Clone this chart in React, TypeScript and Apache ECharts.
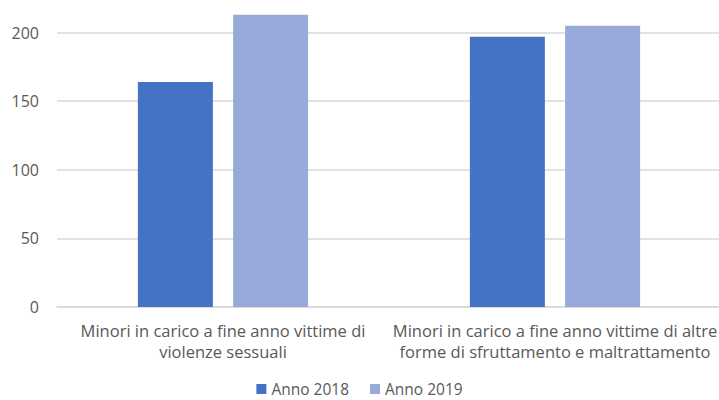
import React, { useEffect, useRef } from "react";
import * as echarts from "echarts";

const categories = [
  "Minori in carico a fine anno vittime di\nviolenze sessuali",
  "Minori in carico a fine anno vittime di altre\nforme di sfruttamento e maltrattamento",
];
const seriesNames = ["Anno 2018", "Anno 2019"];
const values2018 = [164, 197];
const values2019 = [213, 205];

const FONT = "'Open Sans', sans-serif";
const TEXT = "#595959";
const OFFSET = 36;

export default function App() {
  const ref = useRef<HTMLDivElement>(null);
  useEffect(() => {
    if (!ref.current) return;
    const chart = echarts.init(ref.current, null, { renderer: "svg" });
    chart.setOption({
      animation: false,
      textStyle: { fontFamily: FONT },
      grid: { left: 57, right: -2, top: 0, bottom: 93, containLabel: false, outerBoundsMode: "none" },
      legend: {
        data: seriesNames,
        top: 381 + OFFSET,
        left: "center",
        padding: 0,
        icon: "rect",
        itemWidth: 10,
        itemHeight: 10,
        itemGap: 21,
        textStyle: { color: TEXT, fontSize: 15.5, lineHeight: 14, fontFamily: FONT },
      },
      xAxis: {
        type: "category",
        data: categories,
        axisLine: { lineStyle: { color: "#d9d9d9", width: 1.5 } },
        axisTick: { show: false },
        axisLabel: {
          color: TEXT,
          fontSize: 16.5,
          lineHeight: 21,
          margin: 13,
          interval: 0,
          fontFamily: FONT,
        },
      },
      yAxis: {
        type: "value",
        min: 0,
        max: 250,
        interval: 50,
        axisLine: { show: false },
        axisTick: { show: false },
        axisLabel: { color: TEXT, fontSize: 16, margin: 18, fontFamily: FONT, showMaxLabel: false },
        splitLine: { lineStyle: { color: "#d9d9d9", width: 1.5 } },
      },
      series: [
        {
          name: seriesNames[0],
          type: "bar",
          data: values2018,
          barWidth: 75,
          barGap: "27%",
          itemStyle: { color: "#4472C4" },
        },
        {
          name: seriesNames[1],
          type: "bar",
          data: values2019,
          barWidth: 75,
          barGap: "27%",
          itemStyle: { color: "#98AAD9" },
        },
      ],
    });
    return () => chart.dispose();
  }, []);
  return (
    <div style={{ position: "fixed", left: 0, top: 0, width: 719, height: 400, overflow: "hidden", background: "#fff" }}>
      <div
        ref={ref}
        style={{ position: "absolute", left: 0, top: -OFFSET, width: 719, height: 400 + OFFSET }}
      />
    </div>
  );
}
